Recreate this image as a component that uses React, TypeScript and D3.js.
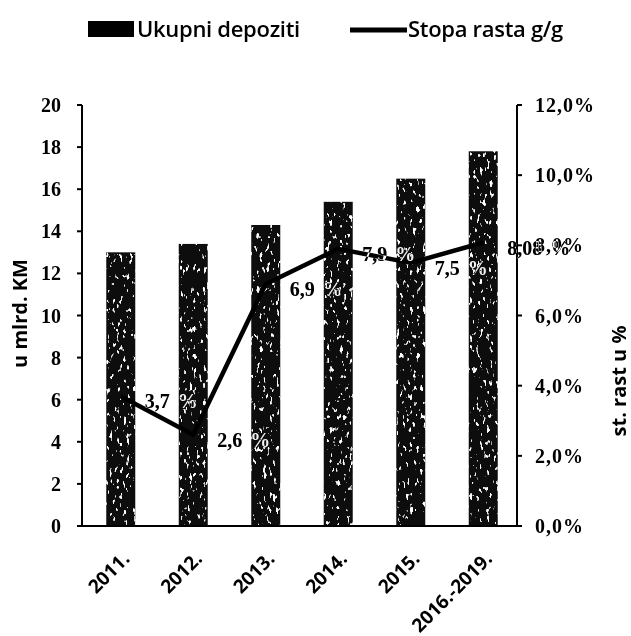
import React, { useEffect, useRef } from 'react';
import * as d3 from 'd3';

const categories = ['2011.', '2012.', '2013.', '2014.', '2015.', '2016.-2019.'];
const deposits = [13.0, 13.4, 14.3, 15.4, 16.5, 17.8];
const growth = [3.7, 2.6, 6.9, 7.9, 7.5, 8.08];
const growthLabels = ['3,7', '2,6', '6,9', '7,9', '7,5', '8,08'];
const leftTicks = [0, 2, 4, 6, 8, 10, 12, 14, 16, 18, 20];
const rightTicks = [0, 2, 4, 6, 8, 10, 12];
const rightTickLabels = ['0,0%', '2,0%', '4,0%', '6,0%', '8,0%', '10,0%', '12,0%'];

const serif = '"Liberation Serif", "DejaVu Serif", serif';
const sans = '"Open Sans", "Liberation Sans", sans-serif';

const App: React.FC = () => {
  const svgRef = useRef<SVGSVGElement>(null);

  useEffect(() => {
    if (!svgRef.current) return;
    const svg = d3.select(svgRef.current);
    svg.selectAll('*').remove();

    const width = 631;
    const height = 636;
    const left = 82;
    const right = 517;
    const top = 105;
    const bottom = 526;

    // speckle texture for the bars
    const defs = svg.append('defs');
    const filter = defs.append('filter').attr('id', 'speck')
      .attr('x', 0).attr('y', 0).attr('width', 1).attr('height', 1);
    filter.append('feTurbulence')
      .attr('type', 'fractalNoise')
      .attr('baseFrequency', '0.3 0.15')
      .attr('numOctaves', 2)
      .attr('seed', 7)
      .attr('result', 'noise');
    filter.append('feColorMatrix')
      .attr('in', 'noise')
      .attr('type', 'matrix')
      .attr('values', '0 0 0 0 1  0 0 0 0 1  0 0 0 0 1  14 0 0 0 -9')
      .attr('result', 'spots');
    filter.append('feComposite')
      .attr('in', 'spots').attr('in2', 'SourceGraphic')
      .attr('operator', 'in').attr('result', 'spotsIn');
    const merge = filter.append('feMerge');
    merge.append('feMergeNode').attr('in', 'SourceGraphic');
    merge.append('feMergeNode').attr('in', 'spotsIn');

    svg.append('rect')
      .attr('width', width).attr('height', height).attr('fill', '#fff');

    const x = d3.scaleBand<string>()
      .domain(categories)
      .range([84.5, 519.5])
      .paddingInner(0.6)
      .paddingOuter(0.3);

    const yLeft = d3.scaleLinear().domain([0, 20]).range([bottom, top]);
    const yRight = d3.scaleLinear().domain([0, 12]).range([bottom, top]);

    // bars
    svg.append('g')
      .selectAll('rect')
      .data(deposits)
      .join('rect')
      .attr('x', (_, i) => x(categories[i])!)
      .attr('y', d => yLeft(d))
      .attr('width', x.bandwidth())
      .attr('height', d => bottom - yLeft(d))
      .attr('fill', '#0a0a0a')
      .attr('filter', 'url(#speck)');

    // axes lines
    const axisG = svg.append('g').attr('stroke', '#000').attr('stroke-width', 2);
    axisG.append('line').attr('x1', left).attr('x2', left).attr('y1', top).attr('y2', bottom);
    axisG.append('line').attr('x1', right).attr('x2', right).attr('y1', top).attr('y2', bottom);
    axisG.append('line').attr('x1', left - 5).attr('x2', right).attr('y1', bottom).attr('y2', bottom);

    leftTicks.forEach(t => {
      axisG.append('line')
        .attr('x1', left - 5).attr('x2', left)
        .attr('y1', yLeft(t)).attr('y2', yLeft(t));
      svg.append('text')
        .attr('x', 61).attr('y', yLeft(t) + 7)
        .attr('text-anchor', 'end')
        .attr('font-family', serif).attr('font-weight', 'bold')
        .attr('font-size', 20)
        .text(String(t));
    });

    rightTicks.forEach((t, i) => {
      axisG.append('line')
        .attr('x1', right).attr('x2', right + 5)
        .attr('y1', yRight(t)).attr('y2', yRight(t));
      svg.append('text')
        .attr('x', 535).attr('y', yRight(t) + 7)
        .attr('font-family', serif).attr('font-weight', 'bold')
        .attr('font-size', 20)
        .attr('letter-spacing', 1)
        .text(rightTickLabels[i]);
    });

    // category labels
    categories.forEach(c => {
      const cx = x(c)! + x.bandwidth() / 2;
      svg.append('text')
        .attr('transform', `translate(${cx + 10},${bottom + 34}) rotate(-45)`)
        .attr('text-anchor', 'end')
        .attr('font-family', sans).attr('font-weight', 'bold')
        .attr('font-size', 19)
        .text(c);
    });

    // axis titles
    svg.append('text')
      .attr('transform', `translate(27,${(top + bottom) / 2 - 2}) rotate(-90)`)
      .attr('text-anchor', 'middle')
      .attr('font-family', sans).attr('font-weight', 'bold')
      .attr('font-size', 20)
      .text('u mlrd. KM');

    svg.append('text')
      .attr('transform', `translate(626,381) rotate(-90)`)
      .attr('text-anchor', 'middle')
      .attr('font-family', sans).attr('font-weight', 'bold')
      .attr('font-size', 20)
      .text('st. rast u %');

    // growth line
    const line = d3.line<number>()
      .x((_, i) => x(categories[i])! + x.bandwidth() / 2)
      .y(d => yRight(d));

    svg.append('path')
      .datum(growth)
      .attr('d', line)
      .attr('fill', 'none')
      .attr('stroke', '#000')
      .attr('stroke-width', 4.5)
      .attr('stroke-linejoin', 'round');

    // value labels (inverted over the bars)
    growth.forEach((g, i) => {
      const cx = x(categories[i])! + x.bandwidth() / 2;
      const t = svg.append('text')
        .attr('x', cx + 24).attr('y', yRight(g) + 12)
        .attr('font-family', serif).attr('font-weight', 'bold')
        .attr('font-size', 20)
        .attr('fill', '#fff')
        .style('mix-blend-mode', 'difference');
      t.append('tspan').text(growthLabels[i]);
      t.append('tspan').attr('dx', 8).text('%');
    });

    // legend
    const lg = svg.append('g');
    lg.append('rect')
      .attr('x', 88).attr('y', 21).attr('width', 46).attr('height', 16)
      .attr('fill', '#000');
    lg.append('text')
      .attr('x', 137).attr('y', 37)
      .attr('font-family', sans).attr('font-weight', 600)
      .attr('font-size', 22)
      .attr('letter-spacing', -0.3)
      .text('Ukupni depoziti');
    lg.append('line')
      .attr('x1', 350).attr('x2', 407).attr('y1', 30).attr('y2', 30)
      .attr('stroke', '#000').attr('stroke-width', 5);
    lg.append('text')
      .attr('x', 408).attr('y', 37)
      .attr('font-family', sans).attr('font-weight', 600)
      .attr('font-size', 22)
      .attr('letter-spacing', -0.3)
      .text('Stopa rasta g/g');
  }, []);

  return (
    <svg ref={svgRef} width={631} height={636}
      style={{ position: 'absolute', left: 0, top: 0 }} />
  );
};

export default App;
